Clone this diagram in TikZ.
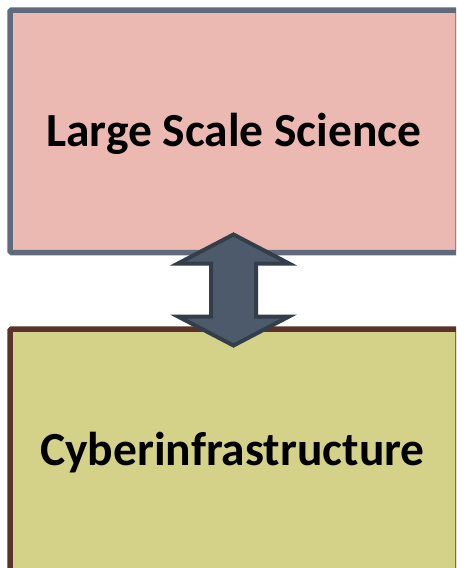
\documentclass[tikz,border=0pt]{standalone}
\usepackage{fontspec}
\setmainfont{Carlito}
\definecolor{sciFill}{RGB}{235,185,177}
\definecolor{sciLine}{RGB}{95,107,124}
\definecolor{ciFill}{RGB}{212,209,136}
\definecolor{ciLine}{RGB}{90,50,42}
\definecolor{arrFill}{RGB}{76,90,107}
\definecolor{arrLine}{RGB}{52,62,75}
\tikzset{
  panel/.style={rectangle, rounded corners=1.5pt, line width=5.5pt, minimum width=448pt, inner sep=0pt},
  caption/.style={anchor=base, inner sep=0pt, font=\fontsize{47.5}{50}\selectfont\bfseries},
  blockarrow/.style={fill=arrFill, draw=arrLine, line width=4pt, line join=miter},
}
\begin{document}
\begin{tikzpicture}[x=1pt,y=-1pt]
\useasboundingbox (0,0) rectangle (456,568);
\clip (0,0) rectangle (456,568);
% the two layers
\node[panel, draw=sciLine, fill=sciFill, minimum height=242.5pt] (science) at (234,131.25) {};
\node[panel, draw=ciLine, fill=ciFill, minimum height=246pt] (cyber) at (234,452) {};
\node[caption] (scienceText) at (234,146.5) {Large Scale Science};
\node[caption] (cyberText) at (232.5,465) {Cyberinfrastructure};
% two-way block arrow linking them
\coordinate (mid) at (233.5,290);
\draw[blockarrow] (mid) ++(0,-55.5) -- ++(55.5,29) -- ++(-33,0) -- ++(0,53) -- ++(33,0)
  -- ++(-55.5,29) -- ++(-55.5,-29) -- ++(33,0) -- ++(0,-53) -- ++(-33,0) -- cycle;
\end{tikzpicture}
\end{document}
